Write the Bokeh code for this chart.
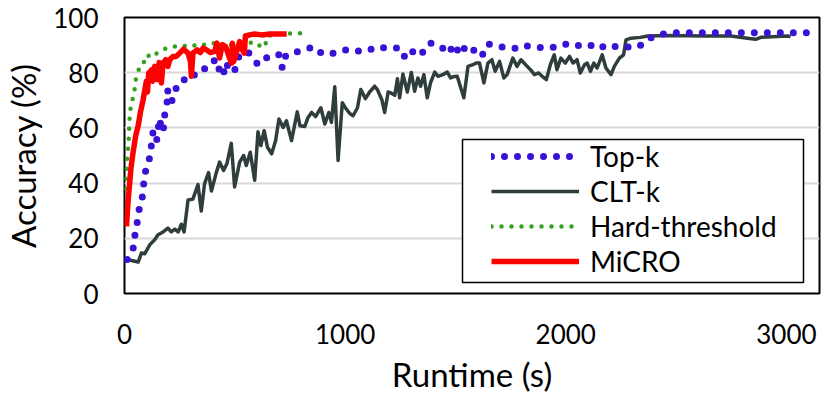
from bokeh.plotting import figure
from bokeh.models import Range1d, Legend, LegendItem, FixedTicker, BoxAnnotation
from bokeh.embed import file_html
from bokeh.resources import INLINE

FONT = "Lato"

# ---------------- data ----------------
x_ticks = [0, 1000, 2000, 3000]
y_ticks = [0, 20, 40, 60, 80, 100]
series_names = ["Top-k", "CLT-k", "Hard-threshold", "MiCRO"]

topk_x = [12, 39, 47, 57, 66, 81, 87, 96, 114, 122, 129, 145, 152, 160, 167, 178, 182, 193, 195,
          212, 228, 238, 258, 280, 303, 330, 378, 414, 432, 447, 458, 486, 500, 518, 529, 559,
          573, 606, 631, 663, 699, 715, 731, 782, 820, 855, 889, 923, 958, 1010, 1062, 1096,
          1146, 1198, 1248, 1270, 1300, 1319, 1350, 1383, 1434, 1466, 1496, 1519, 1549, 1572,
          1599, 1620, 1647, 1695, 1753, 1795, 1817, 1862, 1911, 1964, 2012, 2051, 2096, 2142,
          2182, 2217, 2258, 2311, 2353, 2389, 2439, 2502, 2563, 2623, 2683, 2743, 2804, 2865,
          2926, 2986, 3047, 3107]
topk_y = [12.3, 16.2, 21, 25.5, 30.3, 35.1, 39.8, 44.6, 49.2, 53.8, 58.4, 55, 59.6, 63.4, 58.6,
          60.2, 64.6, 69.4, 73.7, 69.4, 71.8, 76, 76.9, 77.8, 77.5, 80.9, 81.7, 85, 80.5, 78.7,
          83.7, 80, 81, 85.8, 85.9, 87.7, 85.9, 82.9, 84.7, 86.5, 86.5, 81.7, 86.3, 87.6, 88.3,
          89.4, 87.3, 86.5, 87.4, 88.4, 87.8, 87.8, 89.4, 88.8, 89, 85.7, 88.3, 86.1, 87.3, 90.8,
          89.6, 86.9, 90.4, 86.5, 89.8, 88, 88.3, 86.1, 90.4, 89.5, 88.8, 88.9, 89.8, 89.3, 89,
          89.3, 90.6, 89.9, 89.3, 90.6, 88.8, 89.5, 89.5, 89, 90.4, 92.8, 94, 94.5, 94.5, 94.5,
          94.5, 94.5, 94.5, 94.5, 94.5, 94.5, 94.5, 94.5]

cltk_x = [12, 62, 77, 92, 115, 137, 152, 175, 197, 212, 228, 243, 258, 270, 288, 310, 333, 348,
          363, 381, 394, 416, 431, 449, 464, 484, 499, 522, 540, 552, 570, 590, 605, 618, 633,
          648, 667, 685, 700, 719, 734, 757, 783, 795, 817, 832, 848, 866, 890, 908, 926, 938,
          953, 968, 987, 1001, 1021, 1036, 1056, 1071, 1092, 1111, 1134, 1146, 1167, 1179, 1195,
          1206, 1225, 1237, 1247, 1262, 1282, 1300, 1315, 1330, 1342, 1357, 1372, 1387, 1406,
          1421, 1443, 1463, 1478, 1489, 1508, 1538, 1557, 1579, 1594, 1609, 1629, 1647, 1665,
          1680, 1700, 1719, 1734, 1760, 1779, 1797, 1825, 1840, 1858, 1877, 1893, 1912, 1930,
          1948, 1960, 1978, 1998, 2017, 2033, 2051, 2066, 2085, 2097, 2112, 2127, 2142, 2165,
          2182, 2205, 2220, 2243, 2262, 2273, 2296, 2338, 2371, 2477, 2627, 2748, 2823, 2861,
          2884, 3004, 3019]
cltk_y = [12.3, 11.4, 14.7, 14.4, 17.7, 19.5, 21.3, 22.3, 23.7, 22.3, 23.3, 22.3, 25.1, 22.3,
          33.9, 34.2, 39.5, 29.9, 39.8, 43.8, 37.1, 43.8, 47.6, 44.6, 47, 54.4, 38.6, 47.6, 50,
          46.4, 51.2, 41, 58.6, 53.6, 59, 53, 50.6, 55.4, 63.2, 60.2, 62.6, 55.4, 65.8, 60.8,
          60.5, 63.8, 65.6, 64.1, 67.3, 61.4, 65.6, 62, 74.9, 48.2, 69.1, 67.3, 65.2, 64.4, 67.3,
          73.9, 70.6, 73, 75.1, 73.9, 70.1, 65.6, 73, 72.7, 71.8, 77.8, 70.9, 79.5, 73, 80.1,
          73.3, 78.1, 75.1, 79.3, 70.9, 76.3, 80.2, 78.7, 79.3, 80.2, 78.1, 78.5, 78.7, 70.9,
          82.3, 82.9, 83.5, 83.5, 76.3, 83.5, 84.7, 80.5, 84.1, 78.1, 79.3, 85.3, 82.3, 84.7,
          82.3, 81.1, 79.3, 79.9, 78.7, 77.5, 82.9, 86.5, 81.1, 85.3, 83.5, 85.9, 83.5, 84.7,
          79.9, 82.9, 83.5, 80.5, 83.5, 81.7, 86.5, 81.7, 79.3, 82.3, 85.3, 86.5, 91.9, 92.5,
          92.8, 93.3, 93.5, 93.3, 93.3, 92.5, 92.1, 92.8, 93.3, 93.1]

hard_x = [4, 6, 9, 12, 16, 19, 21, 23, 27, 36, 42, 47, 51, 60, 72, 87, 99, 111, 122, 142, 157,
          175, 197, 220, 243, 265, 288, 308, 333, 356, 394, 416, 439, 454, 476, 499, 522, 549,
          575, 597, 606, 621, 636, 650, 700, 767, 813]
hard_y = [38, 41.6, 45.2, 49.4, 52.4, 55.8, 59.6, 63.2, 66.8, 70.1, 73.3, 74.2, 77.5, 80, 82.9,
          83.7, 86.5, 86.1, 87.3, 86.8, 87.7, 88.5, 88.8, 89.5, 89.5, 89.8, 89.5, 90, 89.5, 90,
          90.9, 90.4, 89.8, 90.9, 89.8, 90.4, 90.9, 90.7, 90.9, 89.8, 89.5, 90.4, 89.5, 93.3, 94,
          94.3, 94.3]

micro_x = [9, 16, 24, 29, 39, 51, 62, 72, 84, 99, 104, 110, 114, 122, 127, 137, 148, 157, 167,
           175, 187, 197, 205, 220, 235, 250, 268, 288, 299, 303, 310, 329, 344, 356, 371, 389,
           409, 419, 431, 443, 458, 476, 486, 489, 495, 507, 522, 534, 543, 548, 567, 590, 621,
           660, 697, 735]
micro_y = [24.3, 33.3, 40.4, 45.2, 51.2, 57.2, 60.8, 65.6, 70, 76.9, 73, 80, 79.9, 81, 76.9,
           82.3, 77.5, 83.7, 76.3, 83.5, 84.7, 82.3, 84.7, 85.9, 85.9, 87.1, 88.5, 87.1, 84.1,
           78.7, 87.1, 88.3, 87.3, 88.9, 88.3, 87.3, 87.7, 90.7, 85.3, 90.1, 89.5, 85.3, 83.5,
           90.7, 84.1, 87.3, 91.3, 88.3, 87.1, 93.3, 93.7, 94, 93.7, 94, 94, 94]

# ---------------- figure ----------------
p = figure(frame_width=695, frame_height=276,
           min_border_left=123, min_border_right=12, min_border_top=17, min_border_bottom=105,
           x_range=Range1d(0, 3150), y_range=Range1d(0, 100),
           output_backend="svg", toolbar_location=None)
p.background_fill_color = "white"
p.border_fill_color = "white"
p.outline_line_color = "black"
p.outline_line_width = 2
p.outline_line_alpha = 1

p.xgrid.grid_line_color = None
p.ygrid.grid_line_color = "#D9D9D9"
p.ygrid.grid_line_width = 2

p.xaxis.ticker = FixedTicker(ticks=x_ticks)
p.yaxis.ticker = FixedTicker(ticks=y_ticks)
p.xaxis.axis_label = "Runtime (s)"
p.yaxis.axis_label = "Accuracy (%)"
for ax in (p.xaxis[0], p.yaxis[0]):
    ax.axis_line_color = None
    ax.major_tick_line_color = None
    ax.minor_tick_line_color = None
    ax.major_tick_out = 0
    ax.major_tick_in = 0
    ax.major_label_text_font = FONT
    ax.major_label_text_font_size = "26px"
    ax.major_label_text_color = "black"
    ax.axis_label_text_font = FONT
    ax.axis_label_text_font_size = "33px"
    ax.axis_label_text_font_style = "normal"
    ax.axis_label_text_color = "black"
p.xaxis.major_label_standoff = 30
p.xaxis.axis_label_standoff = 7
p.yaxis.major_label_standoff = 26
p.yaxis.axis_label_standoff = 7

r_clt = p.line(cltk_x, cltk_y, line_color="#2F3D3D", line_width=3.5, line_join="round")
r_top = p.line(topk_x, topk_y, line_color="#3A12D6", line_width=7, line_dash="0 13",
               line_cap="round")
r_hard = p.line(hard_x, hard_y, line_color="#33A11C", line_width=4.5, line_dash="0 10",
                line_cap="round")
r_micro = p.line(micro_x, micro_y, line_color="#FF0000", line_width=5.5, line_join="round")

# legend frame (screen units, relative to the plot frame)
legend_box = BoxAnnotation(left=338, right=679, bottom=11, top=154,
                           left_units="screen", right_units="screen",
                           bottom_units="screen", top_units="screen",
                           fill_color="white", fill_alpha=1,
                           line_color="black", line_width=1.5, line_alpha=1)
p.add_layout(legend_box)

legend = Legend(items=[LegendItem(label=series_names[0], renderers=[r_top]),
                       LegendItem(label=series_names[1], renderers=[r_clt]),
                       LegendItem(label=series_names[2], renderers=[r_hard]),
                       LegendItem(label=series_names[3], renderers=[r_micro])],
                location=(367, 15))
legend.border_line_color = None
legend.background_fill_alpha = 0
legend.padding = 0
legend.spacing = 1
legend.margin = 0
legend.glyph_width = 88
legend.glyph_height = 34
legend.label_height = 34
legend.label_standoff = 11
legend.label_text_font = FONT
legend.label_text_font_size = "28px"
legend.label_text_color = "black"
p.add_layout(legend)

open("out.html", "w").write(file_html(p, INLINE))
